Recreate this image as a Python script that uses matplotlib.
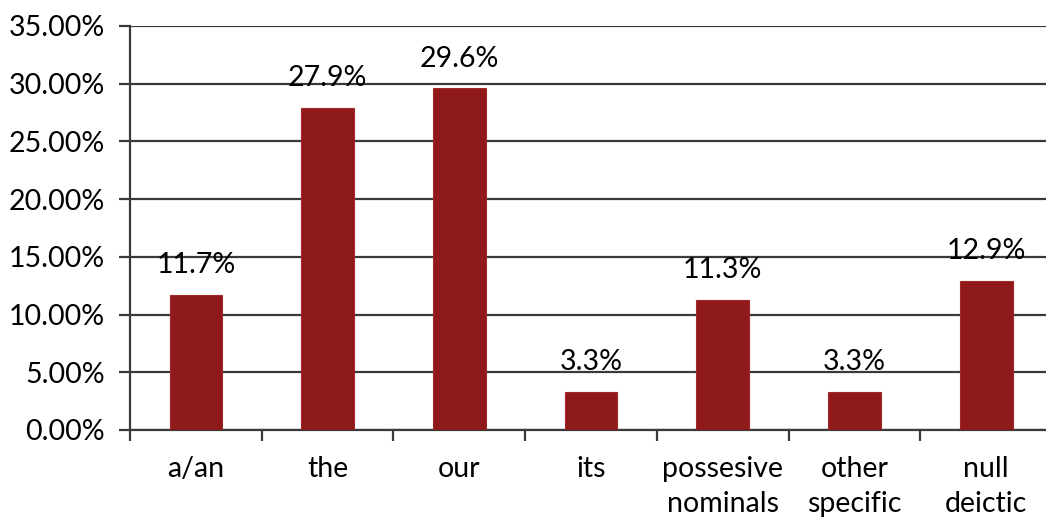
import matplotlib.pyplot as plt
import numpy as np
from matplotlib.ticker import FuncFormatter

# category shares (percent)
categories = ['a/an', 'the', 'our', 'its', 'possesive\nnominals', 'other\nspecific', 'null\ndeictic']
shares = [11.7, 27.9, 29.6, 3.3, 11.3, 3.3, 12.9]
y_ticks = [0, 5, 10, 15, 20, 25, 30, 35]

plt.rcParams['font.family'] = ['Lato', 'DejaVu Sans']

fig = plt.figure(figsize=(10.46, 5.19), dpi=100)
ax = fig.add_axes([0.1243, 0.1715, 0.8815, 0.7785])

x = np.arange(len(categories))
bars = ax.bar(x, shares, width=0.4, color='#8E1A1A', edgecolor='#A52828', linewidth=0.8, zorder=3)

ax.set_xlim(-0.5, len(categories) - 0.5)
ax.set_ylim(0, 35)
ax.set_yticks(y_ticks)
ax.yaxis.set_major_formatter(FuncFormatter(lambda v, p: f'{v:.2f}%'))
ax.grid(axis='y', color='#3a3a3a', linewidth=1.6, zorder=0)

# category labels at centres, tick marks at boundaries
ax.set_xticks(x)
ax.set_xticklabels(categories, linespacing=1.4)
ax.set_xticks(np.arange(-0.5, len(categories), 1.0), minor=True)
ax.tick_params(axis='x', which='major', length=0, pad=19, labelsize=20.5)
ax.tick_params(axis='x', which='minor', length=8, width=1.6, color='#3a3a3a', direction='out')
ax.tick_params(axis='y', length=8, width=1.6, color='#3a3a3a', labelsize=20.5, pad=10)

for side in ['top', 'right']:
    ax.spines[side].set_visible(False)
for side in ['left', 'bottom']:
    ax.spines[side].set_color('#3a3a3a')
    ax.spines[side].set_linewidth(1.6)

for rect, v in zip(bars, shares):
    ax.annotate(f'{v:.1f}%', xy=(rect.get_x() + rect.get_width() / 2, v),
                xytext=(0, 12), textcoords='offset points',
                ha='center', va='bottom', fontsize=20.5, zorder=4)

fig.savefig('out.png', dpi=100)
